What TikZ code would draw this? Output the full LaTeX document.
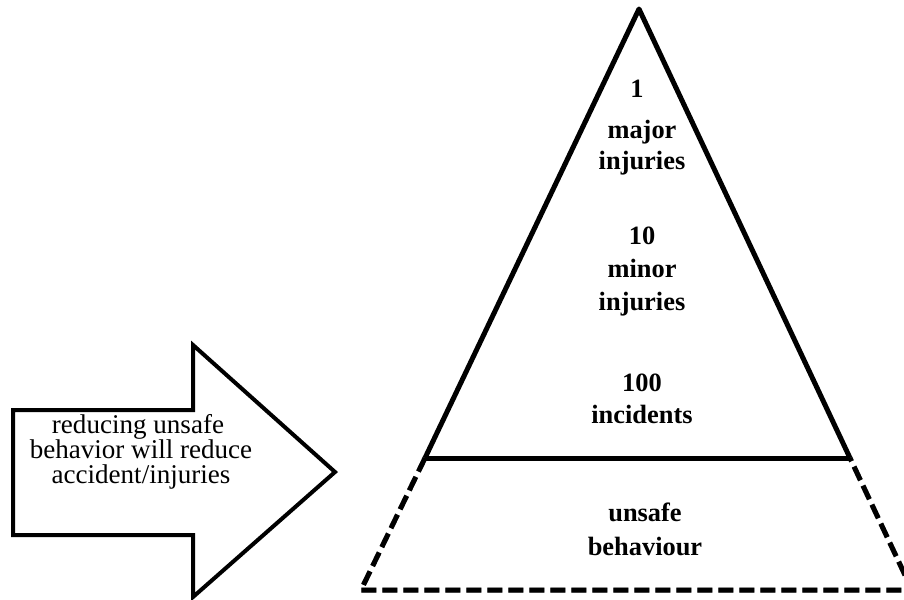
\documentclass[tikz,border=0pt]{standalone}
\usepackage{fontspec}
\setmainfont{Liberation Serif}
\begin{document}
\begin{tikzpicture}[x=0.75pt,y=-0.75pt,
  solidline/.style={line width=3.75pt,line join=round},
  dashline/.style={line width=3.75pt,dash pattern=on 11.25pt off 4.5pt,line join=round},
  shadowline/.style={draw=black!38},
  lvl/.style={font=\fontsize{19.8pt}{22pt}\selectfont\bfseries,anchor=base,inner sep=0pt},
  note/.style={font=\fontsize{20.3pt}{18pt}\selectfont,align=center,anchor=base,inner sep=0pt}]
\useasboundingbox (0,0) rectangle (904,600);

% pyramid corners
\coordinate (apex) at (639,9);
\coordinate (bl) at (425,458);
\coordinate (br) at (850,458);
\coordinate (fl) at (361,590);
\coordinate (fr) at (912,590);

% dashed base section with its grey shadow
\draw[dashline,shadowline,shift={(2,4)}] (bl) -- (fl) -- (fr) -- (br);
\draw[dashline] (bl) -- (fl) -- (fr) -- (br);

% separating line with shadow
\draw[solidline,shadowline,shift={(2,4)}] (bl) -- (br);
\draw[solidline] (bl) -- (br);

% pyramid outline
\draw[solidline] (bl) -- (apex) -- (br);

% level labels
\node[lvl] (n1) at (637,97) {1};
\node[lvl] (n1a) at (642,138) {major};
\node[lvl] (n1b) at (642,169) {injuries};
\node[lvl] (n2) at (642,244) {10};
\node[lvl] (n2a) at (642,277) {minor};
\node[lvl] (n2b) at (642,310) {injuries};
\node[lvl] (n3) at (642,391) {100};
\node[lvl] (n3a) at (642,423) {incidents};
\node[lvl] (n4) at (645,521) {unsafe};
\node[lvl] (n4a) at (645,555) {behaviour};

% block arrow
\draw[line width=3pt,line join=miter,fill=white]
  (13,410) -- (193,410) -- (193,345) -- (335,472) -- (193,597)
  -- (193,535) -- (13,535) -- cycle;
\node[note] (r1) at (138,433) {reducing unsafe};
\node[note] (r2) at (141,458) {behavior will reduce};
\node[note] (r3) at (141,483) {accident/injuries};
\end{tikzpicture}
\end{document}
